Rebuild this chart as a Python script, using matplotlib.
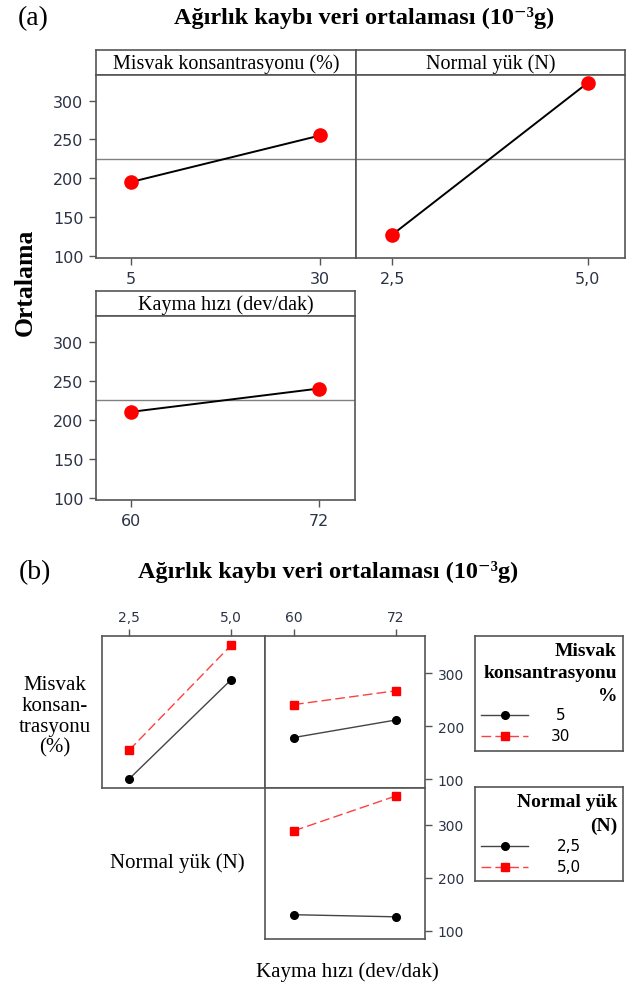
import numpy as np
import matplotlib
matplotlib.use("Agg")
import matplotlib.pyplot as plt

W, H = 630, 987

# factor levels
misvak_levels = ["5", "30"]
yuk_levels = ["2,5", "5,0"]
kayma_levels = ["60", "72"]

# main effects (mean weight loss, 10^-3 g)
misvak_mean = [195, 255]
yuk_mean = [127, 323]
kayma_mean = [210, 240]
grand_mean = 225

# interactions
mv5_by_yuk = [101, 288]
mv30_by_yuk = [155, 353]
mv5_by_kayma = [179, 212]
mv30_by_kayma = [241, 267]
yuk25_by_kayma = [130, 126]
yuk50_by_kayma = [289, 355]

serif = ["Liberation Serif", "DejaVu Serif"]
sans = "DejaVu Sans"
frame_c = "#555555"
tick_c = "#2b3345"
title = "Ağırlık kaybı veri ortalaması (10⁻³g)"

fig = plt.figure(figsize=(W / 100, H / 100), dpi=100)


def px_axes(x0, y0, x1, y1):
    return fig.add_axes([x0 / W, 1 - y1 / H, (x1 - x0) / W, (y1 - y0) / H])


def fx(x):
    return x / W


def fy(y):
    return 1 - y / H


def frame(ax):
    for s in ax.spines.values():
        s.set_color(frame_c)
        s.set_linewidth(1.2)


# ---------- (a) main effects ----------
fig.text(fx(33), fy(19), "(a)", family=serif, fontsize=20, ha="center", va="center")
fig.text(fx(364), fy(18), title, family=serif, fontsize=17.5, weight="bold",
         ha="center", va="center")
fig.text(fx(25), fy(282), "Ortalama", family=serif, fontsize=18.5, weight="bold",
         rotation=90, ha="center", va="center")

main_panels = [
    ((96, 76, 356, 259), "Misvak konsantrasyonu (%)", misvak_levels, misvak_mean, True),
    ((356, 76, 625, 259), "Normal yük (N)", yuk_levels, yuk_mean, False),
    ((96, 317, 355, 501), "Kayma hızı (dev/dak)", kayma_levels, kayma_mean, True),
]
for (x0, y0, x1, y1), name, levels, means, ylab in main_panels:
    strip = px_axes(x0, y0 - 25, x1, y0)
    strip.set_xticks([])
    strip.set_yticks([])
    frame(strip)
    strip.text(0.5, 0.47, name, family=serif, fontsize=14.5, ha="center", va="center",
               transform=strip.transAxes)

    ax = px_axes(x0, y0, x1, y1)
    frame(ax)
    pos = np.arange(len(levels))
    ax.axhline(grand_mean, color="#808080", lw=1.0, zorder=1)
    ax.plot(pos, means, color="black", lw=1.4, marker="o", ms=9.5,
            mfc="#ff0000", mec="#ff0000", zorder=3)
    ax.set_xlim(-0.185, 1.19)
    ax.set_ylim(97, 333)
    ax.set_xticks(pos)
    ax.set_xticklabels(levels)
    ax.set_yticks([100, 150, 200, 250, 300])
    ax.tick_params(direction="out", length=5, width=1, color=frame_c,
                   labelsize=11.5, labelcolor=tick_c, pad=4)
    for t in ax.get_xticklabels() + ax.get_yticklabels():
        t.set_family(sans)
    if not ylab:
        ax.tick_params(axis="y", left=False, labelleft=False)

# ---------- (b) interactions ----------
fig.text(fx(35), fy(573), "(b)", family=serif, fontsize=20, ha="center", va="center")
fig.text(fx(328), fy(572), title, family=serif, fontsize=17.5, weight="bold",
         ha="center", va="center")

black_style = dict(color="#444444", lw=1.0, marker="o", ms=5.5, mfc="black", mec="black")
red_style = dict(color="#ff4040", lw=1.0, ls=(0, (7, 3)), marker="s", ms=5.5,
                 mfc="#ff0000", mec="#ff0000")

inter_panels = [
    ((102, 637, 265, 789), yuk_levels, mv5_by_yuk, mv30_by_yuk, "top", False, (-0.265, 1.33)),
    ((265, 637, 425, 789), kayma_levels, mv5_by_kayma, mv30_by_kayma, "top", True, (-0.284, 1.284)),
    ((265, 789, 425, 940), kayma_levels, yuk25_by_kayma, yuk50_by_kayma, None, True, (-0.284, 1.284)),
]
for (x0, y0, x1, y1), levels, low, high, xside, yright, xl in inter_panels:
    ax = px_axes(x0, y0, x1, y1)
    frame(ax)
    pos = np.arange(len(levels))
    ax.plot(pos, low, **black_style)
    ax.plot(pos, high, **red_style)
    ax.set_xlim(*xl)
    ax.set_ylim(84, 370)
    if xside == "top":
        ax.xaxis.tick_top()
        ax.set_xticks(pos)
        ax.set_xticklabels(levels)
    else:
        ax.set_xticks([])
    if yright:
        ax.yaxis.tick_right()
        ax.set_yticks([100, 200, 300])
    else:
        ax.set_yticks([])
    ax.tick_params(direction="out", length=5, width=1, color=frame_c,
                   labelsize=10, labelcolor=tick_c, pad=4)
    for t in ax.get_xticklabels() + ax.get_yticklabels():
        t.set_family(sans)

fig.text(fx(55), fy(717), "Misvak\nkonsan-\ntrasyonu\n(%)", family=serif, fontsize=15,
         ha="center", va="center", linespacing=1.12)
fig.text(fx(177), fy(863), "Normal yük (N)", family=serif, fontsize=15,
         ha="center", va="center")
fig.text(fx(347), fy(972), "Kayma hızı (dev/dak)", family=serif, fontsize=15,
         ha="center", va="center")


def key(box, heading, labels, label_x, title_ys, entry_ys):
    x0, y0, x1, y1 = box
    kx = px_axes(x0, y0, x1, y1)
    kx.set_xlim(x0, x1)
    kx.set_ylim(y1, y0)
    kx.set_xticks([])
    kx.set_yticks([])
    frame(kx)
    for line, ty in zip(heading, title_ys):
        kx.text(x1 - 6, ty, line, family=serif, fontsize=14, weight="bold",
                ha="right", va="center")
    for lab, style, ey in zip(labels, [black_style, red_style], entry_ys):
        st = dict(style)
        st.pop("marker")
        kx.plot([x0 + 6, x0 + 53], [ey, ey], **st)
        kx.plot([x0 + 30], [ey], marker=style["marker"], ms=style["ms"],
                mfc=style["mfc"], mec=style["mec"], ls="none")
        kx.text(label_x, ey, lab, family=sans, fontsize=11, ha="center", va="center")


key((475, 637, 623, 752), ["Misvak", "konsantrasyonu", "%"], misvak_levels, 561,
    [652, 674, 697], [716, 737])
key((475, 788, 623, 882), ["Normal yük", "(N)"], yuk_levels, 569,
    [803, 826], [847, 868])

fig.savefig("out.png", dpi=100)
